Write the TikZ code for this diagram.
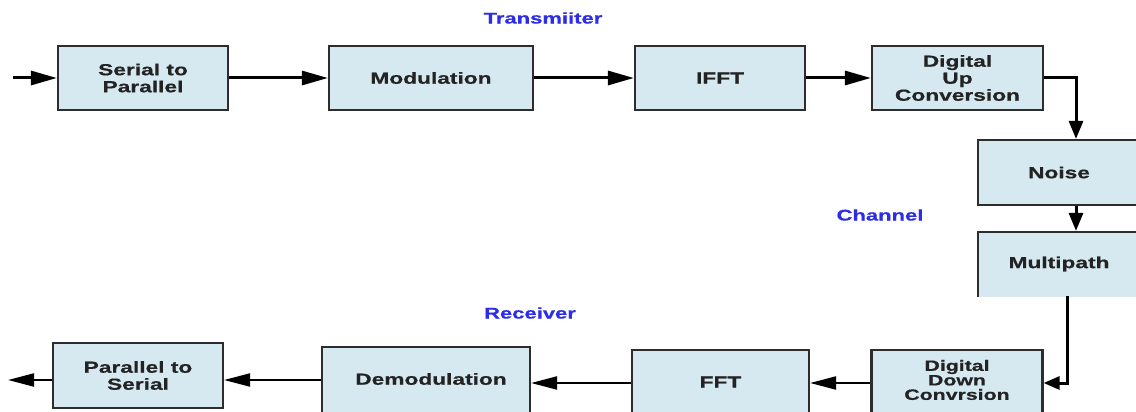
\documentclass[tikz,border=0pt]{standalone}
\usepackage{fontspec}
\setmainfont{Liberation Sans}[FakeStretch=1.42,FakeBold=0.6]
\usetikzlibrary{arrows.meta,calc}
\definecolor{boxfill}{RGB}{214,233,241}
\definecolor{boxline}{RGB}{45,45,45}
\definecolor{txt}{RGB}{35,35,35}
\definecolor{lbl}{RGB}{45,45,230}
\tikzset{
  blk/.style={draw=boxline, line width=2.2pt, fill=boxfill, text=txt, align=center,
    font=\fontsize{16}{17}\selectfont\bfseries, inner sep=0pt},
  arr/.style={line width=3pt, -{Triangle[length=26pt,width=14pt]}},
  arrthin/.style={line width=2.2pt, -{Triangle[length=26pt,width=13pt]}},
  arrv/.style={line width=3pt, -{Triangle[length=18pt,width=14pt]}},
  lab/.style={text=lbl, font=\fontsize{15.5}{16.5}\selectfont\bfseries, inner sep=0pt},
  btxt/.style={text=txt, align=center, font=\fontsize{16}{17}\selectfont\bfseries, inner sep=0pt}
}
\begin{document}
\begin{tikzpicture}[x=1pt,y=-1pt]
\useasboundingbox (0,0) rectangle (1136,412);
% labels
\node[lab] (ltx) at (543,18) {Transmiiter};
\node[lab] (lch) at (880,215) {Channel};
\node[lab] (lrx) at (530,313) {Receiver};
% top row
\node[blk, minimum width=170pt, minimum height=64pt] (sp) at (143,78) {Serial to\\Parallel};
\node[blk, minimum width=204pt, minimum height=64pt] (mod) at (431,78) {Modulation};
\node[blk, minimum width=170pt, minimum height=64pt] (ifft) at (720,78) {IFFT};
\node[blk, minimum width=171pt, minimum height=64pt] (duc) at (957.5,78) {Digital\\Up\\Conversion};
% channel
\node[blk, minimum width=162pt, minimum height=65pt] (noise) at (1059,172.5) {Noise};
\begin{scope}
\clip (900,215) rectangle (1136,296);
\node[blk, minimum width=162pt, minimum height=80pt] (mp) at (1059,272) {};
\end{scope}
\node[btxt] (mpt) at (1059,264) {Multipath};
\coordinate (mpb) at (1067,296);
% bottom row
\node[blk, minimum width=171pt, minimum height=66pt] (ddc) at (957,383) {};
\node[btxt, font=\fontsize{15}{14.5}\selectfont\bfseries] (ddct) at (957,380) {Digital\\Down\\Convrsion};
\node[blk, minimum width=177pt, minimum height=66pt] (fft) at (720.5,383) {};
\node[btxt] (fftt) at (720.5,382) {FFT};
\node[blk, minimum width=208pt, minimum height=70pt] (demod) at (426,382) {};
\node[btxt] (demodt) at (431,379) {Demodulation};
\node[blk, minimum width=170pt, minimum height=65pt] (ps) at (138,375.5) {Parallel to\\Serial};
% connectors
\coordinate (in) at (13,78);
\coordinate (out) at (8,380);
\coordinate (c1) at (1076,78);
\coordinate (c2) at (1067,383);
\draw[arr] (in) -- (sp.west);
\draw[arr] (sp.east) -- (mod.west);
\draw[arr] (mod.east) -- (ifft.west);
\draw[arr] (ifft.east) -- (duc.west);
\draw[arrv] (duc.east) -- (c1) -- (c1 |- noise.north);
\draw[arrv] (noise.south -| c1) -- (mp.north -| c1);
\draw[line width=3pt, -{Triangle[length=16pt,width=13pt]}] (mpb) -- (c2) -- (ddc.east |- c2);
\draw[arrthin] (ddc.west) -- (fft.east);
\draw[arrthin] (fft.west) -- (demod.east |- fft.west);
\draw[arrthin] (demod.west |- 0,380) -- (ps.east |- 0,380);
\draw[arrthin] (ps.west |- out) -- (out);
\end{tikzpicture}
\end{document}
